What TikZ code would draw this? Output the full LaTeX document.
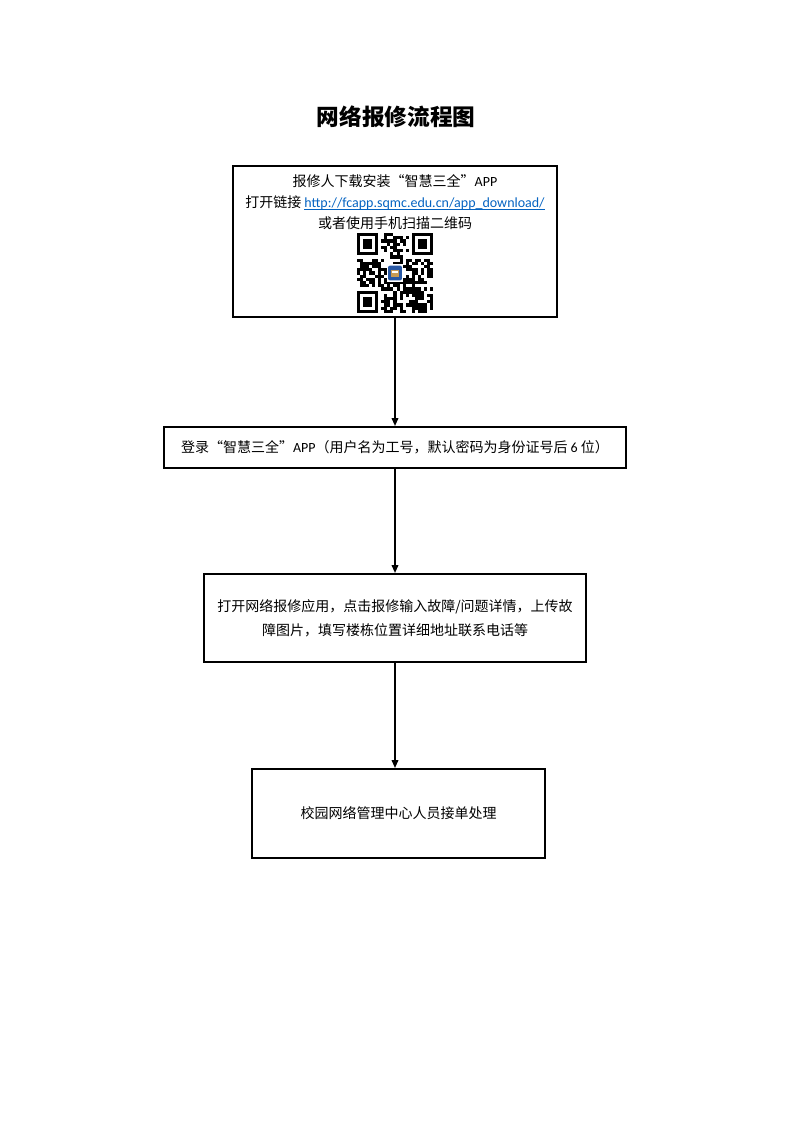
\documentclass[tikz,border=0pt]{standalone}
\usepackage{fontspec}
\setmainfont{Carlito}
\newfontfamily\cjk{Noto Sans CJK SC}
\newfontfamily\lat{Carlito}
\usepackage{tikz}
\usetikzlibrary{arrows.meta}
\usepackage{xcolor}
\definecolor{linkblue}{RGB}{5,99,193}
\definecolor{iconblue}{RGB}{40,88,165}
\definecolor{icongold}{RGB}{200,155,85}
\newcommand{\urlline}[1]{\setbox0\hbox{#1}\rlap{\rule[-1.4pt]{\wd0}{0.5pt}}\box0}
\tikzset{
    stepbox/.style={draw,line width=1.5pt,inner sep=0pt,align=center,
        font=\cjk\fontsize{10.5}{18}\selectfont},
    flow/.style={line width=1.2pt,-{Triangle[length=6pt,width=5pt]}},
    body/.style={inner sep=0pt,align=center,font=\cjk\fontsize{10.5}{16}\selectfont},
}

\begin{document}
\begin{tikzpicture}[x=0.75pt,y=-0.75pt]
    \useasboundingbox (0,0) rectangle (793,1121);

    \node[font=\cjk\bfseries\fontsize{17}{20}\selectfont] (title) at (396,117) {网络报修流程图};

    % steps
    \node[stepbox,minimum width=243pt,minimum height=113.25pt] (download) at (395,241.5) {};
    \node[body,anchor=north] (howto) at (395,174) {%
        报修人下载安装“智慧三全”{\lat APP}\\
        打开链接 {\lat\color{linkblue}\urlline{http://fcapp.sqmc.edu.cn/app\_download/}}\\
        或者使用手机扫描二维码};
    \node[stepbox,minimum width=346.5pt,minimum height=30.75pt] (login) at (395,447.5)
        {登录“智慧三全”{\lat APP}（用户名为工号，默认密码为身份证号后 {\lat 6} 位）};
    \node[stepbox,minimum width=286.5pt,minimum height=66pt] (report) at (395,618)
        {打开网络报修应用，点击报修输入故障/问题详情，上传故\\障图片，填写楼栋位置详细地址联系电话等};
    \node[stepbox,minimum width=219.75pt,minimum height=66.75pt] (handle) at (398.5,813.5)
        {校园网络管理中心人员接单处理};

    \draw[flow] (download.south) -- (login.north);
    \draw[flow] (login.south) -- (report.north);
    \draw[flow] (report.south) -- (report.south |- handle.north);

    % qr code
    \begin{scope}[shift={(357,233)},x=2.28pt,y=-2.4pt]
        \pgfmathsetseed{11}
        \foreach \i in {0,...,24}{
            \foreach \j in {0,...,24}{
                \pgfmathtruncatemacro\qrbit{rnd<0.55}
                \ifnum\qrbit=1
                    \fill (\i,\j) rectangle ++(1,1);
                \fi
            }
        }
        \foreach \cx/\cy/\fx/\fy in {0/0/0/0,17/0/18/0,0/17/0/18}{
            \fill[white] (\cx,\cy) rectangle ++(8,8);
            \fill (\fx,\fy) rectangle ++(7,7);
            \fill[white] (\fx+1,\fy+1) rectangle ++(5,5);
            \fill (\fx+2,\fy+2) rectangle ++(3,3);
        }
        \fill[white] (9.8,9.8) rectangle (15.2,15.2);
        \fill[iconblue,rounded corners=1.5pt] (10.2,10.2) rectangle (14.8,14.8);
        \fill[icongold] (11.2,11.6) rectangle (13.8,13.9);
        \fill[white] (11.5,11.9) rectangle (13.5,12.4);
    \end{scope}

\end{tikzpicture}
\end{document}
